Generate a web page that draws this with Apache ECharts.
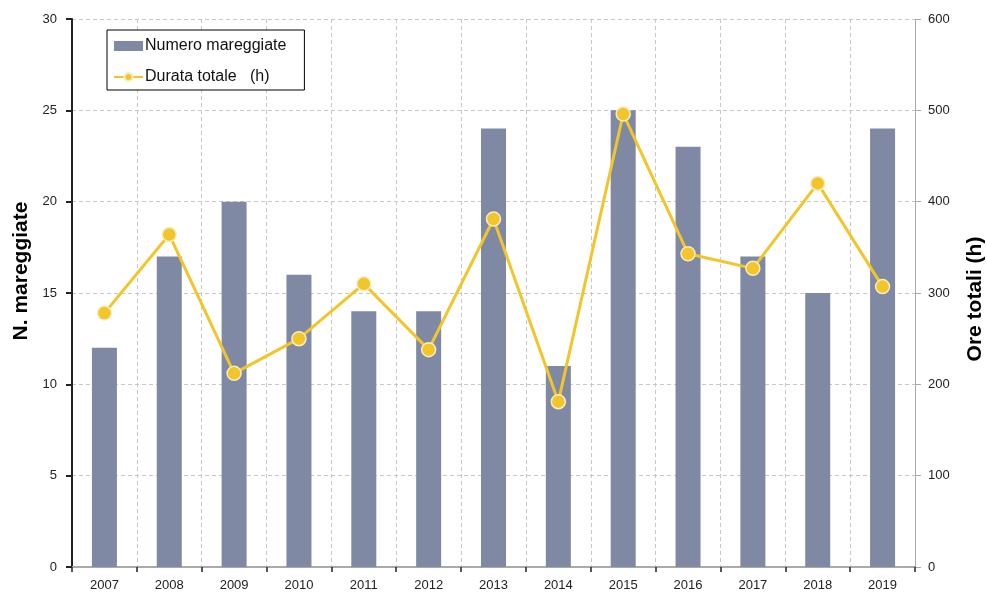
<!DOCTYPE html>
<html>
<head>
<meta charset="utf-8">
<script src="https://cdn.jsdelivr.net/npm/echarts@6/dist/echarts.min.js"></script>
<style>
  html, body { margin: 0; padding: 0; background: #fff; }
  #chart-area { width: 987px; height: 592px; }
</style>
</head>
<body>
<div id="chart-area"></div>
<script>
// anni
const years = ['2007', '2008', '2009', '2010', '2011', '2012', '2013', '2014', '2015', '2016', '2017', '2018', '2019'];
// numero mareggiate (asse sinistro)
const numeroMareggiate = [12, 17, 20, 16, 14, 14, 24, 11, 25, 23, 17, 15, 24];
// durata totale in ore (asse destro)
const durataTotale = [278, 364, 212, 250, 310, 238, 381, 181, 496, 343, 327, 420, 307];

const font = 'Liberation Sans, Arial, sans-serif';
const gridDash = { color: '#c8c8c8', type: [4, 3], width: 1 };

const myChart = echarts.init(document.getElementById('chart-area'));
const option = {
	animation: false,
	textStyle: { fontFamily: font },
	grid: { left: 72, right: 72, top: 19, bottom: 24 },
	legend: {
		orient: 'vertical',
		left: 107,
		top: 30,
		padding: [8, 18, 5, 6],
		itemGap: 15,
		itemWidth: 29,
		itemHeight: 10,
		borderColor: '#000',
		borderWidth: 1,
		backgroundColor: '#fff',
		textStyle: { fontSize: 16, color: '#111', padding: [0, 0, 0, -3] },
		data: [
			{ name: 'Numero mareggiate', icon: 'rect' },
			{ name: 'Durata totale   (h)' }
		]
	},
	xAxis: [
		{
			type: 'category',
			data: years,
			axisLine: { lineStyle: { color: '#222', width: 2 } },
			axisTick: { show: true, length: 5, lineStyle: { color: '#222', width: 1.5 } },
			axisLabel: { color: '#222', fontSize: 13, margin: 12 },
			splitLine: { show: true, lineStyle: gridDash }
		},
		{
			// bordo superiore
			type: 'category',
			data: years,
			position: 'top',
			axisLine: { lineStyle: { color: '#aaa', width: 2 } },
			axisTick: { show: false },
			axisLabel: { show: false }
		}
	],
	yAxis: [
		{
			type: 'value',
			min: 0,
			max: 30,
			interval: 5,
			axisLine: { show: true, lineStyle: { color: '#222', width: 2 } },
			axisTick: { show: true, length: 6, lineStyle: { color: '#222', width: 2 } },
			axisLabel: { color: '#222', fontSize: 13, margin: 15 },
			splitLine: { show: true, lineStyle: gridDash }
		},
		{
			type: 'value',
			min: 0,
			max: 600,
			interval: 100,
			axisLine: { show: true, lineStyle: { color: '#aaa', width: 1 } },
			axisTick: { show: true, length: 6, lineStyle: { color: '#aaa' } },
			axisLabel: { color: '#222', fontSize: 13, margin: 13 },
			splitLine: { show: false }
		}
	],
	series: [
		{
			name: 'Numero mareggiate',
			type: 'bar',
			barWidth: 25,
			itemStyle: { color: '#7f89a3' },
			data: numeroMareggiate
		},
		{
			name: 'Durata totale   (h)',
			type: 'line',
			yAxisIndex: 1,
			symbol: 'circle',
			symbolSize: 14,
			lineStyle: { color: '#f2c52a', width: 3 },
			itemStyle: { color: '#f2c52a', borderColor: '#f7ecc0', borderWidth: 1.5 },
			data: durataTotale
		}
	],
	graphic: [
		{
			type: 'text',
			x: 21,
			y: 271,
			rotation: Math.PI / 2,
			style: {
				text: 'N. mareggiate',
				font: 'bold 21px ' + font,
				fill: '#000',
				align: 'center',
				verticalAlign: 'middle'
			}
		},
		{
			type: 'text',
			x: 975,
			y: 299,
			rotation: Math.PI / 2,
			style: {
				text: 'Ore totali (h)',
				font: 'bold 21px ' + font,
				fill: '#000',
				align: 'center',
				verticalAlign: 'middle'
			}
		}
	]
};
option && myChart.setOption(option);
</script>
</body>
</html>
